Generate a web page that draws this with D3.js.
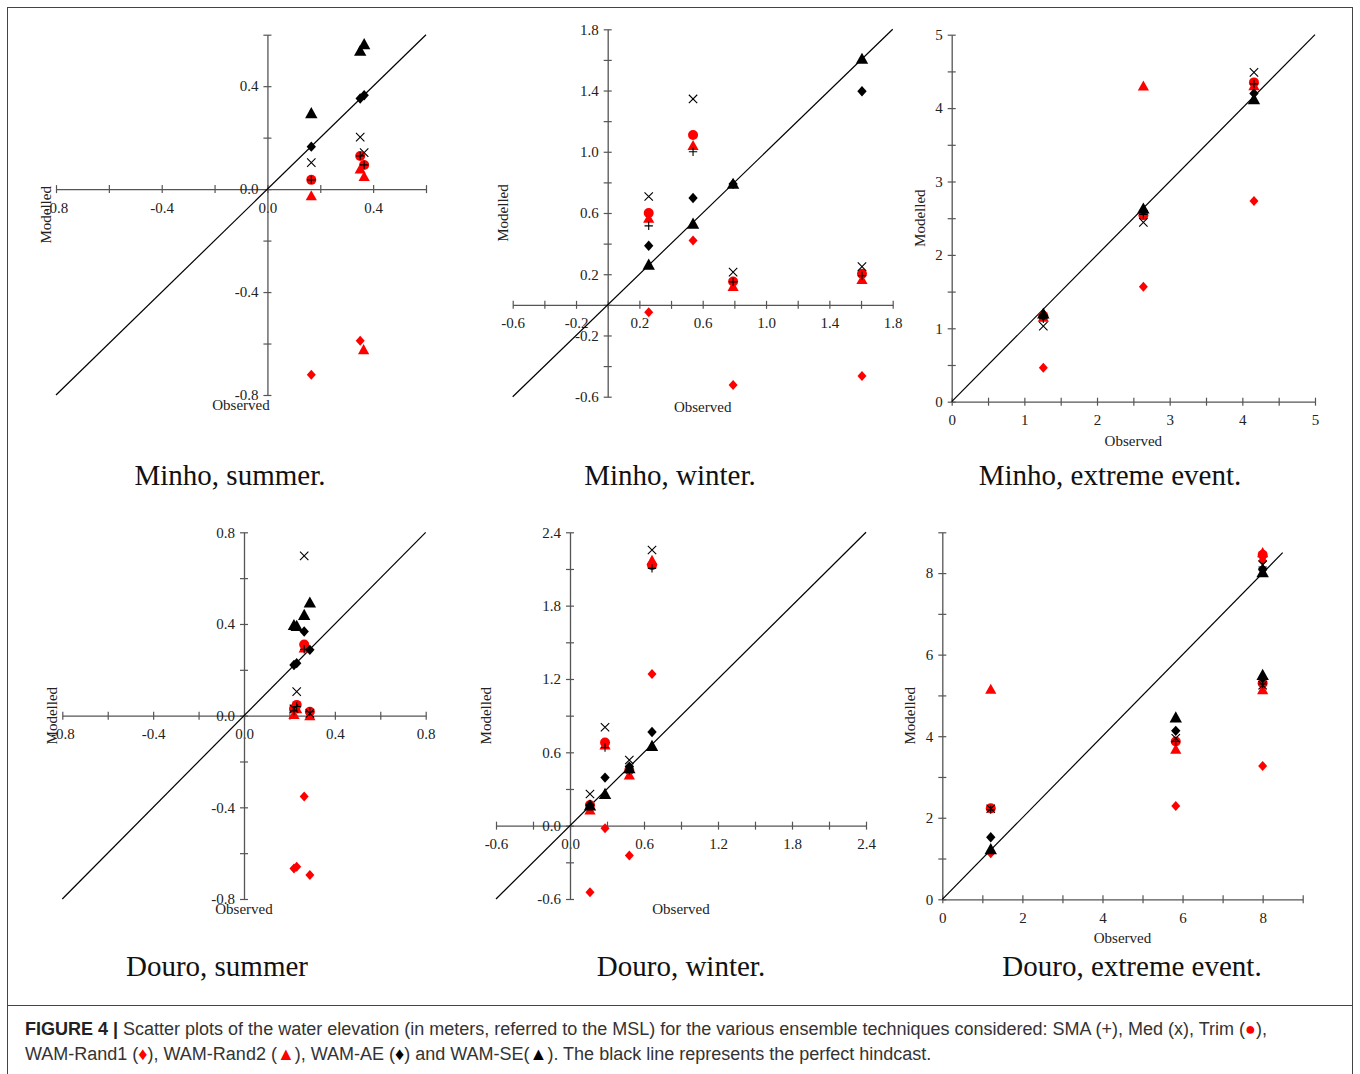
<!DOCTYPE html>
<html>
<head>
<meta charset="utf-8">
<script src="https://cdn.jsdelivr.net/npm/d3@7"></script>
<style>
  body { margin: 0; background: #fff; }
</style>
</head>
<body>
<div id="chart"></div>
<script>
// series, in the order of the columns below (after the observed value)
const seriesNames = ["SMA", "Med", "Trim", "WAM-Rand1", "WAM-Rand2", "WAM-AE", "WAM-SE"];

// each row: [observed, SMA, Med, Trim, WAM-Rand1, WAM-Rand2, WAM-AE, WAM-SE]
const minhoSummer = [
  [0.166, 0.036, 0.103, 0.036, -0.721, -0.026, 0.165, 0.295],
  [0.351, 0.129, 0.202, 0.129, -0.589, 0.078, 0.352, 0.537],
  [0.366, 0.094, 0.142, 0.094, null, 0.049, 0.365, 0.563],
  [0.364, null, null, null, null, -0.624, null, null]
];
const minhoWinter = [
  [0.259, 0.516, 0.708, 0.60, -0.048, 0.565, 0.386, 0.262],
  [0.539, 1.00, 1.345, 1.11, 0.42, 1.04, 0.698, 0.53],
  [0.792, 0.15, 0.214, 0.153, -0.523, 0.12, 0.79, 0.79],
  [1.606, 0.19, 0.25, 0.203, -0.464, 0.165, 1.395, 1.607]
];
const minhoExtreme = [
  [1.261, 1.13, 1.03, 1.17, 0.463, 1.15, 1.17, 1.20],
  [2.638, 2.55, 2.443, 2.54, 1.567, 4.30, 2.60, 2.63],
  [4.16, 4.33, 4.487, 4.35, 2.734, 4.305, 4.20, 4.12]
];
const douroSummer = [
  [0.220, 0.02, 0.03, 0.03, -0.667, 0.005, 0.221, 0.395],
  [0.232, 0.04, 0.105, 0.047, -0.659, 0.03, 0.229, 0.391],
  [0.265, 0.29, 0.697, 0.31, -0.353, 0.295, 0.367, 0.439],
  [0.290, 0.017, 0.01, 0.017, -0.695, 0.0, 0.287, 0.493]
];
const douroWinter = [
  [0.162, 0.165, 0.259, 0.169, -0.545, 0.128, 0.17, 0.165],
  [0.284, 0.64, 0.805, 0.68, -0.022, 0.66, 0.393, 0.259],
  [0.481, 0.45, 0.537, 0.455, -0.245, 0.415, 0.483, 0.47],
  [0.665, 2.105, 2.255, 2.13, 1.241, 2.17, 0.766, 0.652]
];
const douroExtreme = [
  [1.21, 2.2, 2.22, 2.23, 1.129, 5.15, 1.52, 1.227],
  [5.83, 3.87, 3.95, 3.87, 2.29, 3.68, 4.131, 4.458],
  [8.0, 8.15, 8.2, 8.45, 8.3, 8.5, 8.08, 8.02],
  [8.0, 5.28, 5.25, 5.3, 3.27, 5.14, 5.42, 5.5]
];

const width = 1360, height = 1074;
const red = "#ff0000", axisColor = "#555";
const serif = "'Liberation Serif', 'Times New Roman', serif";

// panel layout (page pixels) and axis setup
const panels = [
  { data: minhoSummer, title: "Minho, summer.", left: 56, right: 426, top: 34.7, bottom: 395,
    domain: [-0.8, 0.6], step: 0.2, dec: 1, diag: 0.6, tx: 230, ty: 485, modOff: 10, obsOff: 15 },
  { data: minhoWinter, title: "Minho, winter.", left: 512.7, right: 892.7, top: 29.3, bottom: 396.7,
    domain: [-0.6, 1.8], step: 0.2, dec: 1, diag: 1.8, tx: 670, ty: 485, modOff: 10, obsOff: 15 },
  { data: minhoExtreme, title: "Minho, extreme event.", left: 951.7, right: 1315, top: 34.7, bottom: 401.7,
    domain: [0, 5], step: 0.5, dec: 0, diag: 5, tx: 1110, ty: 485, modOff: 32, obsOff: 44 },
  { data: douroSummer, title: "Douro, summer", left: 62.3, right: 425.7, top: 532.3, bottom: 899,
    domain: [-0.8, 0.8], step: 0.2, dec: 1, diag: 0.8, tx: 217, ty: 976, modOff: 10, obsOff: 15 },
  { data: douroWinter, title: "Douro, winter.", left: 496, right: 866, top: 532.3, bottom: 899,
    domain: [-0.6, 2.4], step: 0.3, dec: 1, diag: 2.4, tx: 681, ty: 976, modOff: 10, obsOff: 15 },
  { data: douroExtreme, title: "Douro, extreme event.", left: 942.3, right: 1302.7, top: 532.3, bottom: 899.3,
    domain: [0, 9], step: 1, dec: 0, diag: 8.5, tx: 1132, ty: 976, modOff: 32, obsOff: 44 }
];

// marker shapes (size = half-width in px)
const shapes = {
  plus: { draw(c, r) { c.moveTo(-r, 0); c.lineTo(r, 0); c.moveTo(0, -r); c.lineTo(0, r); } },
  cross: { draw(c, r) { c.moveTo(-r, -r); c.lineTo(r, r); c.moveTo(-r, r); c.lineTo(r, -r); } },
  circle: { draw(c, r) { c.moveTo(r, 0); c.arc(0, 0, r, 0, 2 * Math.PI); } },
  diamond: { draw(c, r) { c.moveTo(0, -r); c.lineTo(r * 0.9, 0); c.lineTo(0, r); c.lineTo(-r * 0.9, 0); c.closePath(); } },
  triangle: { draw(c, r) { c.moveTo(0, -r); c.lineTo(r, r * 0.8); c.lineTo(-r, r * 0.8); c.closePath(); } }
};
const styles = {
  "SMA": { shape: shapes.plus, r: 4.2, stroke: "#000" },
  "Med": { shape: shapes.cross, r: 4.2, stroke: "#000" },
  "Trim": { shape: shapes.circle, r: 5, fill: red },
  "WAM-Rand1": { shape: shapes.diamond, r: 5, fill: red },
  "WAM-Rand2": { shape: shapes.triangle, r: 5.6, fill: red },
  "WAM-AE": { shape: shapes.diamond, r: 5.2, fill: "#000" },
  "WAM-SE": { shape: shapes.triangle, r: 6.2, fill: "#000" }
};
// drawing order (later on top)
const drawOrder = ["WAM-Rand1", "WAM-Rand2", "Trim", "WAM-AE", "WAM-SE", "SMA", "Med"];

const svg = d3.select("#chart")
  .append("svg")
  .attr("width", width)
  .attr("height", height)
  .style("font-family", serif);

// frame round the figure and the caption
svg.append("rect")
  .attr("x", 7.5).attr("y", 7.5)
  .attr("width", 1345).attr("height", 1090)
  .attr("fill", "none").attr("stroke", "#444").attr("stroke-width", 1);
svg.append("line")
  .attr("x1", 7.5).attr("x2", 1352.5).attr("y1", 1005.5).attr("y2", 1005.5)
  .attr("stroke", "#444");

const tickValues = (domain, step) => {
  const n = Math.round((domain[1] - domain[0]) / step);
  return d3.range(n + 1).map(i => Math.round((domain[0] + i * step) * 1e6) / 1e6);
};

panels.forEach(p => {
  const x = d3.scaleLinear().domain(p.domain).range([p.left, p.right]);
  const y = d3.scaleLinear().domain(p.domain).range([p.bottom, p.top]);
  const ticks = tickValues(p.domain, p.step);
  const fmt = (d, i) => i % 2 ? "" : (p.dec ? (Math.round(d * 10) / 10).toFixed(1) : String(d));

  const g = svg.append("g");

  // x axis (crosses at y = 0)
  g.append("g")
    .attr("transform", `translate(0,${y(0)})`)
    .call(d3.axisBottom(x).tickValues(ticks).tickSize(4).tickSizeOuter(0).tickFormat(fmt))
    .call(a => {
      a.attr("font-family", serif).attr("font-size", 15);
      a.select(".domain").attr("stroke", axisColor).attr("stroke-width", 1.3);
      a.selectAll(".tick line").attr("y1", -4).attr("y2", 4).attr("stroke", axisColor).attr("stroke-width", 1.2);
      a.selectAll(".tick text").attr("y", 13).attr("fill", "#222");
    });

  // y axis (crosses at x = 0)
  g.append("g")
    .attr("transform", `translate(${x(0)},0)`)
    .call(d3.axisLeft(y).tickValues(ticks).tickSize(4).tickSizeOuter(0).tickFormat(fmt))
    .call(a => {
      a.attr("font-family", serif).attr("font-size", 15);
      a.select(".domain").attr("stroke", axisColor).attr("stroke-width", 1.3);
      a.selectAll(".tick line").attr("x1", -4).attr("x2", 4).attr("stroke", axisColor).attr("stroke-width", 1.2);
      a.selectAll(".tick text").attr("x", -9).attr("fill", "#222");
    });

  // perfect hindcast line
  g.append("line")
    .attr("x1", x(p.domain[0])).attr("y1", y(p.domain[0]))
    .attr("x2", x(p.diag)).attr("y2", y(p.diag))
    .attr("stroke", "#000").attr("stroke-width", 1.2);

  // points
  drawOrder.forEach(name => {
    const col = seriesNames.indexOf(name) + 1;
    const st = styles[name];
    const sym = d3.symbol().type(st.shape).size(st.r);
    g.append("g")
      .selectAll("path")
      .data(p.data.filter(row => row[col] != null))
      .join("path")
      .attr("transform", row => `translate(${x(row[0])},${y(row[col])})`)
      .attr("d", sym)
      .attr("fill", st.fill || "none")
      .attr("stroke", st.stroke || "none")
      .attr("stroke-width", 1.1);
  });

  // axis titles
  g.append("text")
    .attr("transform", `translate(${p.left - p.modOff},${(p.top + p.bottom) / 2}) rotate(-90)`)
    .attr("text-anchor", "middle")
    .attr("dominant-baseline", "central")
    .attr("font-size", 15)
    .attr("fill", "#222")
    .text("Modelled");
  g.append("text")
    .attr("x", (p.left + p.right) / 2)
    .attr("y", p.bottom + p.obsOff)
    .attr("text-anchor", "middle")
    .attr("font-size", 15)
    .attr("fill", "#222")
    .text("Observed");

  // panel title
  g.append("text")
    .attr("x", p.tx).attr("y", p.ty)
    .attr("text-anchor", "middle")
    .attr("font-size", 29)
    .attr("fill", "#111")
    .text(p.title);
});

// caption
const caption = svg.append("g")
  .attr("font-family", "'Liberation Sans', Arial, sans-serif")
  .attr("font-size", 18)
  .attr("fill", "#333");

const line1 = caption.append("text").attr("x", 25).attr("y", 1035);
line1.append("tspan").attr("font-weight", "bold").attr("fill", "#222").text("FIGURE 4 | ");
line1.append("tspan").text("Scatter plots of the water elevation (in meters, referred to the MSL) for the various ensemble techniques considered: SMA (+), Med (x), Trim (");
line1.append("tspan").attr("fill", red).text("●");
line1.append("tspan").text("),");

const line2 = caption.append("text").attr("x", 25).attr("y", 1060);
line2.append("tspan").text("WAM-Rand1 (");
line2.append("tspan").attr("fill", red).text("♦");
line2.append("tspan").text("), WAM-Rand2 (");
line2.append("tspan").attr("fill", red).text("▲");
line2.append("tspan").text("), WAM-AE (");
line2.append("tspan").attr("fill", "#000").text("♦");
line2.append("tspan").text(") and WAM-SE(");
line2.append("tspan").attr("fill", "#000").text("▲");
line2.append("tspan").text("). The black line represents the perfect hindcast.");
</script>
</body>
</html>
